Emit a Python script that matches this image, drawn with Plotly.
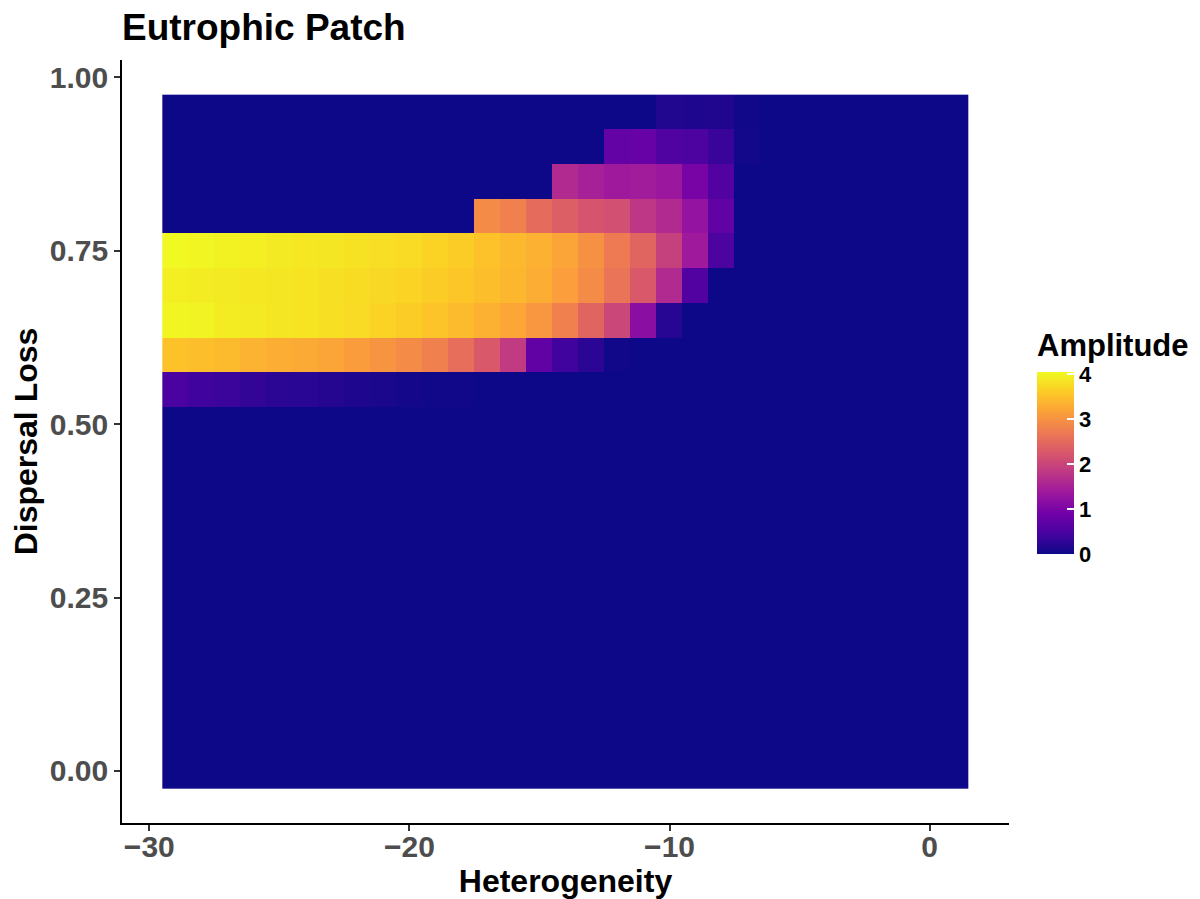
import plotly.graph_objects as go

# ---------------- data ----------------
heterogeneity = [-29, -28, -27, -26, -25, -24, -23, -22, -21, -20, -19, -18, -17, -16, -15,
                 -14, -13, -12, -11, -10, -9, -8, -7, -6, -5, -4, -3, -2, -1, 0, 1]
dispersal_loss = [0.00, 0.05, 0.10, 0.15, 0.20, 0.25, 0.30, 0.35, 0.40, 0.45,
                  0.50, 0.55, 0.60, 0.65, 0.70, 0.75, 0.80, 0.85, 0.90, 0.95]

zero_row = [0.0] * 31  # rows 0.00 - 0.50 are all zero amplitude

amp_055 = [0.49, 0.41, 0.36, 0.30, 0.24, 0.22, 0.18, 0.14, 0.10, 0.06, 0.03, 0.02, 0, 0, 0,
           0, 0, 0, 0, 0, 0, 0, 0, 0, 0, 0, 0, 0, 0, 0, 0]
amp_060 = [3.52, 3.48, 3.44, 3.36, 3.30, 3.26, 3.20, 3.12, 3.02, 2.92, 2.79, 2.55, 2.27, 1.86, 0.73,
           0.41, 0.24, 0.03, 0, 0, 0, 0, 0, 0, 0, 0, 0, 0, 0, 0, 0]
amp_065 = [4.01, 3.99, 3.93, 3.91, 3.87, 3.85, 3.81, 3.75, 3.69, 3.62, 3.54, 3.44, 3.34, 3.22, 3.06,
           2.79, 2.43, 2.02, 1.17, 0.20, 0, 0, 0, 0, 0, 0, 0, 0, 0, 0, 0]
amp_070 = [3.95, 3.93, 3.91, 3.89, 3.87, 3.85, 3.81, 3.77, 3.73, 3.69, 3.62, 3.56, 3.48, 3.40, 3.30,
           3.14, 2.92, 2.63, 2.27, 1.62, 0.57, 0, 0, 0, 0, 0, 0, 0, 0, 0, 0]
amp_075 = [4.05, 4.01, 3.97, 3.95, 3.91, 3.89, 3.87, 3.83, 3.79, 3.75, 3.69, 3.62, 3.52, 3.42, 3.34,
           3.20, 2.98, 2.71, 2.43, 1.94, 1.38, 0.51, 0, 0, 0, 0, 0, 0, 0, 0, 0]
amp_080 = [0, 0, 0, 0, 0, 0, 0, 0, 0, 0, 0, 0, 2.92, 2.79, 2.53,
           2.35, 2.21, 2.15, 1.80, 1.62, 1.26, 0.73, 0, 0, 0, 0, 0, 0, 0, 0, 0]
amp_085 = [0, 0, 0, 0, 0, 0, 0, 0, 0, 0, 0, 0, 0, 0, 0,
           1.62, 1.48, 1.38, 1.42, 1.34, 0.97, 0.57, 0, 0, 0, 0, 0, 0, 0, 0, 0]
amp_090 = [0, 0, 0, 0, 0, 0, 0, 0, 0, 0, 0, 0, 0, 0, 0,
           0, 0, 0.75, 0.78, 0.55, 0.52, 0.34, 0.04, 0, 0, 0, 0, 0, 0, 0, 0]
amp_095 = [0, 0, 0, 0, 0, 0, 0, 0, 0, 0, 0, 0, 0, 0, 0,
           0, 0, 0, 0, 0.16, 0.14, 0.15, 0.03, 0, 0, 0, 0, 0, 0, 0, 0]

amplitude = [zero_row] * 11 + [amp_055, amp_060, amp_065, amp_070, amp_075,
                               amp_080, amp_085, amp_090, amp_095]

x_tickvals = [-30, -20, -10, 0]
x_ticktext = ["\u221230", "\u221220", "\u221210", "0"]
y_tickvals = [0.00, 0.25, 0.50, 0.75, 1.00]
y_ticktext = ["0.00", "0.25", "0.50", "0.75", "1.00"]
cbar_tickvals = [0, 1, 2, 3, 4]

# ---------------- figure ----------------
FONT = "Liberation Sans, Arial, sans-serif"
W, H = 1200, 899
ML, MR, MT, MB = 122, 191, 60, 76
PW, PH = W - ML - MR, H - MT - MB


def px_x(p):
    return (p - ML) / PW


def px_y(p):
    return (H - MB - p) / PH


zmax = max(max(r) for r in amplitude)

fig = go.Figure(go.Heatmap(
    x=heterogeneity, y=dispersal_loss, z=amplitude,
    colorscale="Plasma", zmin=0, zmax=zmax, zsmooth=False,
    colorbar=dict(
        x=px_x(1037), xanchor="left",
        y=px_y(463), yanchor="middle",
        thickness=37, thicknessmode="pixels",
        len=182, lenmode="pixels",
        outlinewidth=0, xpad=0, ypad=0,
        tickvals=cbar_tickvals,
        ticks="inside", ticklen=7, tickcolor="white", tickwidth=1.5,
        tickfont=dict(family=FONT, size=22, color="black", weight="bold"),
    ),
))

fig.update_layout(
    width=W, height=H,
    margin=dict(l=ML, r=MR, t=MT, b=MB, autoexpand=False),
    paper_bgcolor="white", plot_bgcolor="white",
    title=dict(text="Eutrophic Patch", x=122 / W, xanchor="left",
               y=1 - 27 / H, yanchor="middle",
               font=dict(family=FONT, size=37, color="black", weight="bold")),
    xaxis=dict(
        range=[-31.05, 3.05], tickvals=x_tickvals, ticktext=x_ticktext,
        showgrid=False, zeroline=False, automargin=False,
        showline=True, linecolor="black", linewidth=1.6,
        ticks="outside", ticklen=6, tickwidth=1.5, tickcolor="#333333",
        ticklabelstandoff=-10,
        tickfont=dict(family=FONT, size=30, color="#4d4d4d", weight="bold"),
        title=dict(text="Heterogeneity", standoff=2,
                   font=dict(family=FONT, size=32, color="black", weight="bold")),
    ),
    yaxis=dict(
        range=[-0.075, 1.025], tickvals=y_tickvals, ticktext=y_ticktext,
        showgrid=False, zeroline=False, automargin=False,
        showline=True, linecolor="black", linewidth=1.6,
        ticks="outside", ticklen=6, tickwidth=1.5, tickcolor="#333333",
        tickfont=dict(family=FONT, size=30, color="#4d4d4d", weight="bold"),
        title=dict(text="Dispersal Loss", standoff=3,
                   font=dict(family=FONT, size=32, color="black", weight="bold")),
    ),
    annotations=[dict(
        text="Amplitude", xref="paper", yref="paper",
        x=px_x(1035), xanchor="left",
        y=px_y(345), yanchor="middle",
        showarrow=False,
        font=dict(family=FONT, size=31, color="black", weight="bold"),
    )],
)

fig.write_html("out.html", config={"displayModeBar": False})
